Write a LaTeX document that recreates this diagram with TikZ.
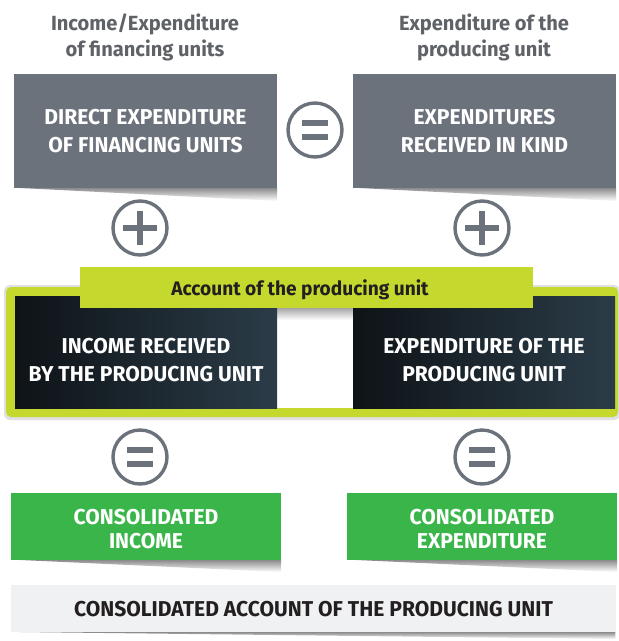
\documentclass[tikz,border=0pt]{standalone}
\usepackage{fontspec}
\usetikzlibrary{fadings}
\newfontfamily\din[FakeStretch=0.98]{Fira Sans}
\definecolor{cgray}{HTML}{6C727B}
\definecolor{clime}{HTML}{C4D82E}
\definecolor{cgreen}{HTML}{3AB54A}
\definecolor{darkL}{HTML}{0E1317}
\definecolor{darkR}{HTML}{2B3C48}
\definecolor{barbg}{HTML}{F0F1F3}
\definecolor{titlegray}{HTML}{5F6368}
\definecolor{textdark}{HTML}{231F20}
\tikzset{
  txt/.style={font=\din\bfseries\fontsize{21.5}{28}\selectfont, align=center, inner sep=0pt},
  graybox/.style={txt, fill=cgray, text=white, minimum width=263pt, minimum height=114pt},
  darkbox/.style={left color=darkL, right color=darkR, minimum width=262pt, minimum height=112pt, inner sep=0pt},
  greenbox/.style={fill=cgreen, minimum width=270pt, minimum height=67pt, inner sep=0pt},
  whitetxt/.style={txt, text=white},
  titletxt/.style={txt, text=titlegray, font=\din\bfseries\fontsize{20.5}{26}\selectfont},
  shadowwedge/.style={black, opacity=0.45, path fading=south},
  sign/.style={circle, draw=cgray, line width=3.4pt, minimum size=54pt, inner sep=0pt},
  eqsign/.style={sign, path picture={
     \fill[cgray] ([shift={(-13,-9.75)}]path picture bounding box.center) rectangle ++(26,5.5);
     \fill[cgray] ([shift={(-13,4.25)}]path picture bounding box.center) rectangle ++(26,5.5);}},
  plussign/.style={sign, path picture={
     \fill[cgray] ([shift={(-17,-2.75)}]path picture bounding box.center) rectangle ++(34,5.5);
     \fill[cgray] ([shift={(-2.75,-17)}]path picture bounding box.center) rectangle ++(5.5,34);}}
}
\begin{document}
\begin{tikzpicture}[x=1pt,y=-1pt]
\useasboundingbox (0,0) rectangle (619,641);
\fill[white] (0,0) rectangle (619,641);

% titles
\node[titletxt] (t1) at (145,37) {Income/Expenditure\\of financing units};
\node[titletxt] (t2) at (484,37) {Expenditure of the\\producing unit};

% top gray boxes
\fill[shadowwedge] (20,188) -- (277,188) -- (277,201) -- cycle;
\fill[shadowwedge] (359,188) -- (616,188) -- (616,201) -- cycle;
\node[graybox] (dexp) at (145.5,131) {DIRECT EXPENDITURE\\OF FINANCING UNITS};
\node[graybox] (kind) at (484.5,131) {EXPENDITURES\\RECEIVED IN KIND};
\node[eqsign] (eq1) at (315,130) {};

% plus signs
\node[plussign] (pl1) at (140,228) {};
\node[plussign] (pl2) at (482,228) {};

% account frame
\fill[black, opacity=0.12, rounded corners=6] (4,285) rectangle (620,420);
\fill[clime, rounded corners=5] (6,287) rectangle (618,417);
\fill[white] (15,296) rectangle (615,408);
\node[darkbox] (inc) at (146,352) {};
\node[darkbox] (exp) at (484,352) {};
\node[whitetxt] (inct) at (146,360) {INCOME RECEIVED\\BY THE PRODUCING UNIT};
\node[whitetxt] (expt) at (484,360) {EXPENDITURE OF THE\\PRODUCING UNIT};
\fill[black, opacity=0.35, path fading=south] (277,308) rectangle (353,320);
\node[fill=clime, minimum width=453pt, minimum height=41pt, inner sep=0pt] (acc) at (306.5,287.5) {};
\node[txt, text=textdark, font=\din\bfseries\fontsize{19.5}{24}\selectfont] (acct) at (300,290) {Account of the producing unit};

% lower equals
\node[eqsign] (eq2) at (140,457) {};
\node[eqsign] (eq3) at (482,457) {};

% green boxes
\fill[shadowwedge] (20,560) -- (281,560) -- (281,572) -- cycle;
\fill[shadowwedge] (356,560) -- (617,560) -- (617,572) -- cycle;
\node[greenbox] (cinc) at (146,526.5) {};
\node[greenbox] (cexp) at (482,526.5) {};
\node[whitetxt, font=\din\bfseries\fontsize{21.5}{24}\selectfont] (cinct) at (146,529) {CONSOLIDATED\\INCOME};
\node[whitetxt, font=\din\bfseries\fontsize{21.5}{24}\selectfont] (cexpt) at (482,529) {CONSOLIDATED\\EXPENDITURE};

% bottom bar
\fill[shadowwedge] (20,632) -- (616,632) -- (616,639) -- cycle;
\node[fill=barbg, minimum width=605pt, minimum height=47pt, inner sep=0pt] (cacc) at (313.5,608.5) {};
\node[txt, text=textdark] (cacct) at (313.5,609) {CONSOLIDATED ACCOUNT OF THE PRODUCING UNIT};
\end{tikzpicture}
\end{document}
